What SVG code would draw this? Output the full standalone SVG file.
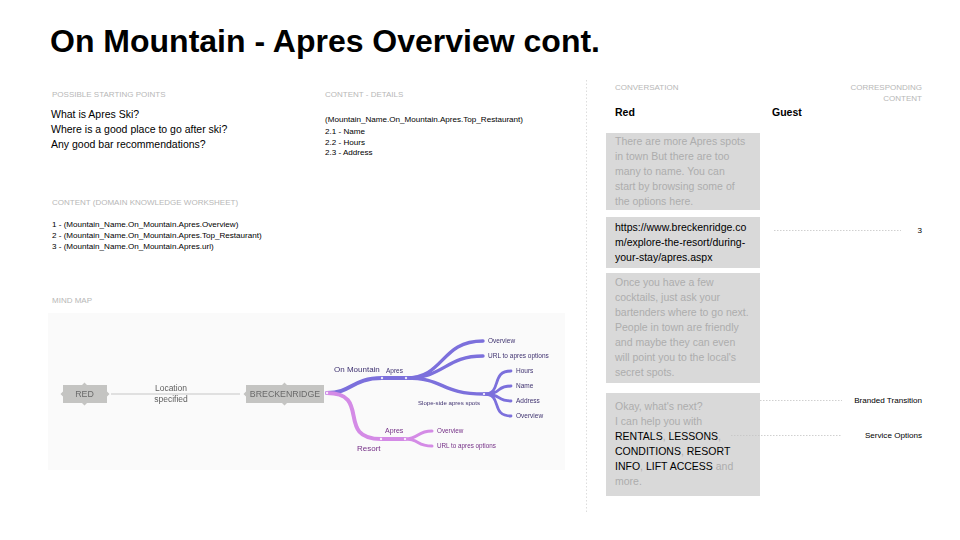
<svg xmlns="http://www.w3.org/2000/svg" width="960" height="540" viewBox="0 0 960 540">
<style>
text{font-family:"Liberation Sans",Arial,sans-serif}
.title{font-size:32px;font-weight:700;fill:#000}
.hd{font-size:8px;font-weight:400;fill:#b7b7b7}
.q{font-size:10.5px;fill:#000}
.s{font-size:8.08px;fill:#000}
.who{font-size:10.5px;font-weight:700;fill:#000}
.b{font-size:10.5px;fill:#adadad}
.k{fill:#000}
.bub{fill:#d9d9d9}
.dot{stroke:#c4c4c4;stroke-width:.8;stroke-dasharray:1.5 1.5;fill:none}
.div{stroke:#d4d4d4;stroke-width:.8;stroke-dasharray:1.5 2;fill:none}
.nd{fill:#c4c4c2}
.nt{font-size:8.8px;fill:#6a6a6a;text-anchor:middle}
.pu{stroke:#7b6fdc;fill:none;stroke-linecap:round}
.pk{stroke:#d48be6;fill:none;stroke-linecap:round}
.tp{font-size:6.5px;fill:#3f3270}
.tk{font-size:6.3px;fill:#742f86}
.big{font-size:8px}
.jn{fill:#fff;opacity:.85}
</style>
<defs><filter id="soft" x="-2%" y="-2%" width="104%" height="104%"><feGaussianBlur stdDeviation="0.4"/></filter></defs>
<rect width="960" height="540" fill="#fff"/>
<text class="title" x="50" y="52">On Mountain - Apres Overview cont.</text>

<g id="starting-points">
<text class="hd" x="52" y="97">POSSIBLE STARTING POINTS</text>
<text class="q" x="51" y="118">What is Apres Ski?</text>
<text class="q" x="51" y="133">Where is a good place to go after ski?</text>
<text class="q" x="51" y="148">Any good bar recommendations?</text>
</g>
<g id="content-details">
<text class="hd" x="325" y="97">CONTENT - DETAILS</text>
<text class="s" x="325" y="122">(Mountain_Name.On_Mountain.Apres.Top_Restaurant)</text>
<text class="s" x="325" y="134">2.1 - Name</text>
<text class="s" x="325" y="145">2.2 - Hours</text>
<text class="s" x="325" y="155">2.3 - Address</text>
</g>
<g id="domain-knowledge">
<text class="hd" x="52" y="205">CONTENT (DOMAIN KNOWLEDGE WORKSHEET)</text>
<text class="s" x="52" y="227">1 - (Mountain_Name.On_Mountain.Apres.Overview)</text>
<text class="s" x="52" y="238">2 - (Mountain_Name.On_Mountain.Apres.Top_Restaurant)</text>
<text class="s" x="52" y="249">3 - (Mountain_Name.On_Mountain.Apres.url)</text>
</g>
<text class="hd" x="52" y="303">MIND MAP</text>

<g id="mindmap">
<rect x="48" y="313" width="517" height="157" fill="#fafafa"/>
<g filter="url(#soft)">
<g id="connectors">
<path d="M111 394H240" stroke="#c6c6c6" stroke-width="1.2" fill="none"/>
<path class="pu" stroke-width="4" d="M327 393C352 393 352 378 382 378H406"/>
<path class="pu" stroke-width="3.4" d="M406 378C445 378 440 341 483 341"/>
<path class="pu" stroke-width="3.4" d="M406 378C445 378 445 356 483 356"/>
<path class="pu" stroke-width="3.4" d="M406 378C445 378 440 394 484 394"/>
<path class="pu" stroke-width="2.8" d="M484 394C503 394 490 371 511 371"/>
<path class="pu" stroke-width="2.8" d="M484 394C503 394 495 386 511 386"/>
<path class="pu" stroke-width="2.8" d="M484 394C503 394 495 401 511 401"/>
<path class="pu" stroke-width="2.8" d="M484 394C503 394 490 416 511 416"/>
<path class="pk" stroke-width="4" d="M327 393C372 393 335 439 381 439H405"/>
<path class="pk" stroke-width="3" d="M405 439C420 439 416 431 432 431"/>
<path class="pk" stroke-width="3" d="M405 439C420 439 416 446 432 446"/>
<circle class="jn" cx="382" cy="378" r="1.2"/><circle class="jn" cx="406" cy="378" r="1.2"/>
<circle class="jn" cx="484" cy="394" r="1.2"/><circle class="jn" cx="381" cy="439" r="1.2"/>
<circle class="jn" cx="405" cy="439" r="1.2"/><circle class="jn" cx="327" cy="393" r="1.2"/>
</g>
<g id="node-red">
<path class="nd" d="M63 385H82L84.500 382.500L87 385H107V391.500L109.500 394L107 396.500V403H87L84.500 405.500L82 403H63V396.500L60.500 394L63 391.500Z"/>
<text class="nt" x="84.500" y="397">RED</text>
</g>
<g id="node-breckenridge">
<path class="nd" d="M246 385H282L284.500 382.500L287 385H324V403H287L284.500 405.500L282 403H246V396.500L243.500 394L246 391.500Z"/>
<text class="nt" x="285" y="397">BRECKENRIDGE</text>
</g>
<text x="171" y="391" font-size="8.500" fill="#5f5f5f" text-anchor="middle">Location</text>
<text x="171" y="402" font-size="8.500" fill="#5f5f5f" text-anchor="middle">specified</text>
<text class="tp big" x="334" y="372">On Mountain</text>
<text class="tp" x="386" y="373">Apres</text>
<text class="tp" x="488" y="343">Overview</text>
<text class="tp" x="488" y="358">URL to apres options</text>
<text class="tp" x="418" y="405" style="font-size:6.100px">Slope-side apres spots</text>
<text class="tp" x="516" y="373">Hours</text>
<text class="tp" x="516" y="388">Name</text>
<text class="tp" x="516" y="403">Address</text>
<text class="tp" x="516" y="418">Overview</text>
<text class="tk big" x="357" y="451">Resort</text>
<text class="tk" x="385" y="433" style="font-size:7px">Apres</text>
<text class="tk" x="437" y="433">Overview</text>
<text class="tk" x="437" y="448">URL to apres options</text>
</g>
</g>

<path class="div" d="M586.500 80V512"/>

<g id="conversation">
<text class="hd" x="615" y="90">CONVERSATION</text>
<text class="hd" x="922" y="90" text-anchor="end">CORRESPONDING</text>
<text class="hd" x="922" y="101" text-anchor="end">CONTENT</text>
<text class="who" x="615" y="116">Red</text>
<text class="who" x="772" y="116">Guest</text>
</g>
<g id="bubble-1">
<rect class="bub" x="606" y="133" width="154" height="77"/>
<text class="b" x="615" y="145">There are more Apres spots</text>
<text class="b" x="615" y="160">in town But there are too</text>
<text class="b" x="615" y="175">many to name. You can</text>
<text class="b" x="615" y="190">start by browsing some of</text>
<text class="b" x="615" y="205">the options here.</text>
</g>
<g id="bubble-2">
<rect class="bub" x="606" y="217" width="154" height="51"/>
<text class="q" x="615" y="231">https://www.breckenridge.co</text>
<text class="q" x="615" y="246">m/explore-the-resort/during-</text>
<text class="q" x="615" y="261">your-stay/apres.aspx</text>
</g>
<g id="bubble-3">
<rect class="bub" x="606" y="273" width="154" height="110"/>
<text class="b" x="615" y="286">Once you have a few</text>
<text class="b" x="615" y="301">cocktails, just ask your</text>
<text class="b" x="615" y="316">bartenders where to go next.</text>
<text class="b" x="615" y="331">People in town are friendly</text>
<text class="b" x="615" y="346">and maybe they can even</text>
<text class="b" x="615" y="361">will point you to the local's</text>
<text class="b" x="615" y="376">secret spots.</text>
</g>
<g id="bubble-4">
<rect class="bub" x="606" y="393" width="154" height="103"/>
<text class="b" x="615" y="410">Okay, what's next?</text>
<text class="b" x="615" y="425">I can help you with</text>
<text class="b" x="615" y="440"><tspan class="k">RENTALS</tspan>, <tspan class="k">LESSONS</tspan>,</text>
<text class="b" x="615" y="455"><tspan class="k">CONDITIONS</tspan>, <tspan class="k">RESORT</tspan></text>
<text class="b" x="615" y="470"><tspan class="k">INFO</tspan>, <tspan class="k">LIFT ACCESS</tspan> and</text>
<text class="b" x="615" y="485">more.</text>
</g>
<g id="annotations">
<path class="dot" d="M774 230.500H901"/>
<path class="dot" d="M760 400.500H842"/>
<path class="dot" d="M731 435.500H842"/>
<text class="s" x="922" y="233" text-anchor="end">3</text>
<text class="s" x="922" y="403" text-anchor="end">Branded Transition</text>
<text class="s" x="922" y="438" text-anchor="end">Service Options</text>
</g>
</svg>
